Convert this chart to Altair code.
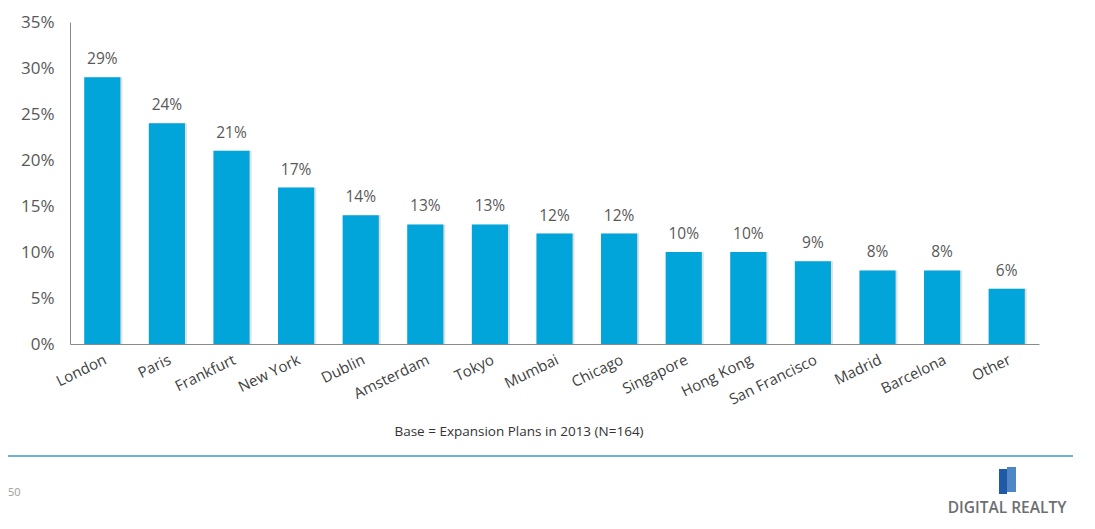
import altair as alt
import pandas as pd

cities = ["London", "Paris", "Frankfurt", "New York", "Dublin", "Amsterdam", "Tokyo",
          "Mumbai", "Chicago", "Singapore", "Hong Kong", "San Francisco", "Madrid",
          "Barcelona", "Other"]
values = [29, 24, 21, 17, 14, 13, 13, 12, 12, 10, 10, 9, 8, 8, 6]
y_ticks = [0, 5, 10, 15, 20, 25, 30, 35]

df = pd.DataFrame({"city": cities, "pct": values})
df["label"] = df["pct"].astype(str) + "%"

FONT = "Open Sans"
W, H = 969, 322

xenc = alt.X("city:N", sort=cities, title=None,
             scale=alt.Scale(paddingInner=0.44, paddingOuter=0.22),
             axis=alt.Axis(labelAngle=-26, labelAlign="right", labelBaseline="top",
                           labelFontSize=15, labelColor="#404040", labelFont=FONT,
                           ticks=False, domainColor="#8a8a8a", labelPadding=8,
                           labelOffset=0))
yenc = alt.Y("pct:Q", title=None,
             scale=alt.Scale(domain=[0, 35], nice=False),
             axis=alt.Axis(values=y_ticks, labelExpr="datum.value + '%'", grid=False,
                           ticks=False, domainColor="#8a8a8a", labelFontSize=17,
                           labelColor="#595959", labelFont=FONT, labelPadding=16))

base = alt.Chart(df)

shadow = base.mark_bar(color="#d9d9d9", xOffset=2, opacity=0.8).encode(x=xenc, y=yenc)
bars = base.mark_bar(color="#02a5d9").encode(x=xenc, y=yenc)
labels = base.mark_text(dy=-18, fontSize=15.5, color="#595959", font=FONT).encode(
    x=xenc, y=yenc, text="label:N")

cap_df = pd.DataFrame({"t": ["Base = Expansion Plans in 2013 (N=164)"]})
caption = alt.Chart(cap_df).mark_text(fontSize=13.5, color="#333333", font=FONT).encode(
    x=alt.value(449), y=alt.value(410), text="t:N")

line = alt.Chart(cap_df).mark_rule(color="#3b9cb8", strokeWidth=1.5).encode(
    x=alt.value(-62), x2=alt.value(1003), y=alt.value(434))

page_df = pd.DataFrame({"t": ["50"]})
page = alt.Chart(page_df).mark_text(fontSize=11, color="#9a9a9a", font=FONT,
                                    align="left").encode(
    x=alt.value(-62), y=alt.value(471), text="t:N")

logo_df = pd.DataFrame({"t": ["DIGITAL REALTY"]})
logo = alt.Chart(logo_df).mark_text(fontSize=15.5, color="#6d6e71", font=FONT,
                                    fontWeight=600, align="center").encode(
    x=alt.value(937), y=alt.value(486), text="t:N")
icon1 = alt.Chart(logo_df).mark_rect(color="#1e5aa6").encode(
    x=alt.value(929), x2=alt.value(937), y=alt.value(447), y2=alt.value(472))
icon2 = alt.Chart(logo_df).mark_rect(color="#4f86c6").encode(
    x=alt.value(937), x2=alt.value(946), y=alt.value(445), y2=alt.value(470))

chart = alt.layer(shadow, bars, labels, caption, line, page, logo, icon1, icon2).properties(
    width=W, height=H,
    autosize=alt.AutoSizeParams(type="none"),
    padding={"left": 62, "top": 14, "right": 40, "bottom": 182},
).configure(background="white").configure_view(strokeWidth=0, stroke="transparent")

chart.save("out.html", embed_options={"renderer": "svg", "actions": False})
